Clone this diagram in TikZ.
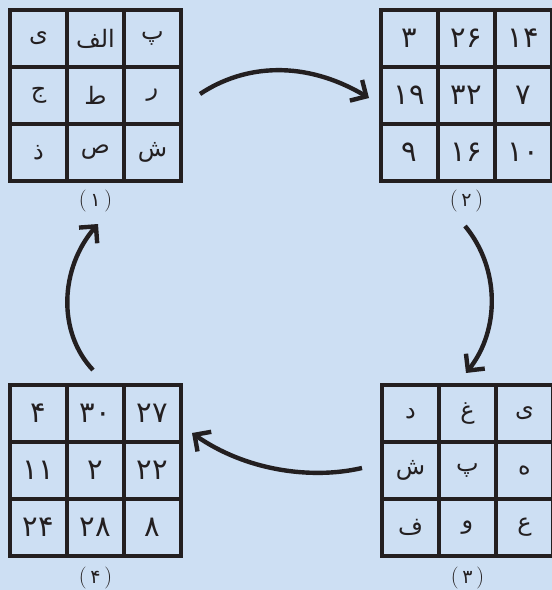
\documentclass[tikz,border=0pt]{standalone}
\usepackage{fontspec}
\TeXXeTstate=1
\newfontfamily\arabicfont[Script=Arabic]{DejaVu Sans}
\usetikzlibrary{arrows.meta}
\definecolor{bg}{RGB}{205,223,243}
\definecolor{ink}{RGB}{35,31,32}
\newcommand{\ar}[1]{{\arabicfont\fontsize{24}{28}\selectfont\beginR #1\endR}}
\newcommand{\fa}[1]{{\arabicfont #1}}
\newcommand{\pl}[1]{(\,{\arabicfont\fontsize{19}{22}\selectfont #1}\,)}
\begin{document}
\begin{tikzpicture}[x=1pt,y=-1pt,
  cell/.style={draw=ink,line width=3.8pt,minimum size=57pt,inner sep=0pt,
    text=ink,font=\fontsize{29}{34}\selectfont},
  lbl/.style={text=ink,inner sep=0pt,font=\fontsize{22}{24}\selectfont},
  cyc/.style={draw=ink,line width=4.4pt,-{Straight Barb[length=12pt,width=24pt]}}]
\fill[bg] (0,0) rectangle (552,590);
\useasboundingbox (0,0) rectangle (552,590);
% grid 1
\node[cell] (a1) at (38.5,38.5) {\ar{ی}};
\node[cell] (a2) at (95.5,38.5) {\ar{الف}};
\node[cell] (a3) at (152.5,38.5) {\ar{پ}};
\node[cell] (a4) at (38.5,95.5) {\ar{ج}};
\node[cell] (a5) at (95.5,95.5) {\ar{ط}};
\node[cell] (a6) at (152.5,95.5) {\ar{ر}};
\node[cell] (a7) at (38.5,152.5) {\ar{ذ}};
\node[cell] (a8) at (95.5,152.5) {\ar{ص}};
\node[cell] (a9) at (152.5,152.5) {\ar{ش}};
\node[lbl] (l1) at (95.5,201) {\pl{۱}};
% grid 2
\node[cell] (b1) at (409.5,38.5) {\fa{۳}};
\node[cell] (b2) at (466.5,38.5) {\fa{۲۶}};
\node[cell] (b3) at (523.5,38.5) {\fa{۱۴}};
\node[cell] (b4) at (409.5,95.5) {\fa{۱۹}};
\node[cell] (b5) at (466.5,95.5) {\fa{۳۲}};
\node[cell] (b6) at (523.5,95.5) {\fa{۷}};
\node[cell] (b7) at (409.5,152.5) {\fa{۹}};
\node[cell] (b8) at (466.5,152.5) {\fa{۱۶}};
\node[cell] (b9) at (523.5,152.5) {\fa{۱۰}};
\node[lbl] (l2) at (466.5,201) {\pl{۲}};
% grid 3
\node[cell] (c1) at (410.5,413.5) {\ar{د}};
\node[cell] (c2) at (467.5,413.5) {\ar{غ}};
\node[cell] (c3) at (524.5,413.5) {\ar{ی}};
\node[cell] (c4) at (410.5,470.5) {\ar{ش}};
\node[cell] (c5) at (467.5,470.5) {\ar{پ}};
\node[cell] (c6) at (524.5,470.5) {\ar{ه}};
\node[cell] (c7) at (410.5,527.5) {\ar{ف}};
\node[cell] (c8) at (467.5,527.5) {\ar{و}};
\node[cell] (c9) at (524.5,527.5) {\ar{ع}};
\node[lbl] (l3) at (467.5,578) {\pl{۳}};
% grid 4
\node[cell] (d1) at (38.5,413.5) {\fa{۴}};
\node[cell] (d2) at (95.5,413.5) {\fa{۳۰}};
\node[cell] (d3) at (152.5,413.5) {\fa{۲۷}};
\node[cell] (d4) at (38.5,470.5) {\fa{۱۱}};
\node[cell] (d5) at (95.5,470.5) {\fa{۲}};
\node[cell] (d6) at (152.5,470.5) {\fa{۲۲}};
\node[cell] (d7) at (38.5,527.5) {\fa{۲۴}};
\node[cell] (d8) at (95.5,527.5) {\fa{۲۸}};
\node[cell] (d9) at (152.5,527.5) {\fa{۸}};
\node[lbl] (l4) at (95.5,578) {\pl{۴}};
% arrow ends
\coordinate (s12) at (200,94);  \coordinate (e12) at (369,98);
\coordinate (s23) at (465,226); \coordinate (e23) at (466,373);
\coordinate (s34) at (362,468); \coordinate (e34) at (192,433);
\coordinate (s41) at (93,370);  \coordinate (e41) at (98,224);
\draw[cyc] (s12) .. controls (245,64) and (305,60) .. (e12);
\draw[cyc] (s23) .. controls (500,268) and (500,330) .. (e23);
\draw[cyc] (s34) .. controls (310,480) and (245,470) .. (e34);
\draw[cyc] (s41) .. controls (57,332) and (60,268) .. (e41);
\end{tikzpicture}
\end{document}
